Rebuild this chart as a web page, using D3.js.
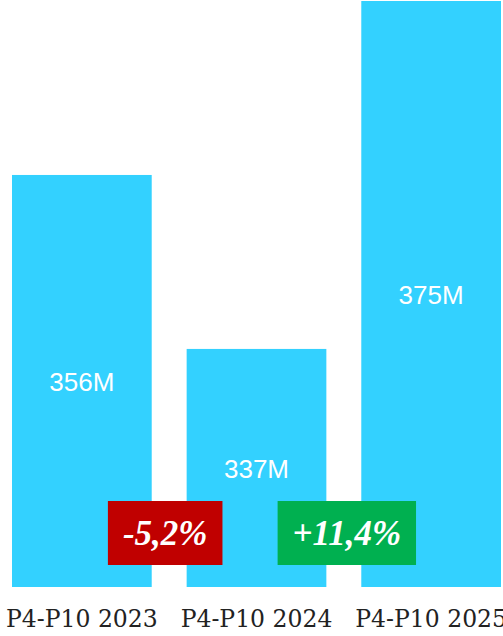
<!DOCTYPE html>
<html>
<head>
<meta charset="utf-8">
<script src="https://cdn.jsdelivr.net/npm/d3@7"></script>
<style>
  html, body { margin: 0; padding: 0; background: #fff; }
  svg { display: block; }
</style>
</head>
<body>
<svg id="chart" width="503" height="636"></svg>
<script>
// Period totals (millions)
const periods = ["P4-P10 2023", "P4-P10 2024", "P4-P10 2025"];
const totals = [356, 337, 375];
const totalLabels = ["356M", "337M", "375M"];

// Year-over-year change badges, placed between consecutive bars
const changeLabels = ["-5,2%", "+11,4%"];
const changeColors = ["#C00000", "#00B050"];

const W = 503, H = 636;
const baseY = 587;
const svg = d3.select("#chart");

const x = d3.scaleBand()
  .domain(periods)
  .range([12, 501])
  .paddingInner(0.2)
  .paddingOuter(0);

const y = d3.scaleLinear()
  .domain([311, 375])
  .range([baseY, 1]);

const data = periods.map((p, i) => ({ period: p, value: totals[i], label: totalLabels[i] }));

// bars
svg.append("g").selectAll("rect")
  .data(data)
  .join("rect")
  .attr("x", d => x(d.period))
  .attr("y", d => y(d.value))
  .attr("width", x.bandwidth())
  .attr("height", d => baseY - y(d.value))
  .attr("fill", "#33D1FF");

// value labels, centred in each bar
const labelSize = 26;
svg.append("g").selectAll("text")
  .data(data)
  .join("text")
  .attr("x", d => x(d.period) + x.bandwidth() / 2)
  .attr("y", d => (y(d.value) + baseY) / 2 + labelSize * 0.37)
  .attr("text-anchor", "middle")
  .attr("font-family", "'Liberation Sans', Arial, sans-serif")
  .attr("font-size", labelSize)
  .attr("fill", "#fff")
  .text(d => d.label);

// x axis (labels only)
const xAxis = d3.axisBottom(x).tickSize(0).tickPadding(0);
const axisG = svg.append("g")
  .attr("transform", `translate(0,${baseY})`)
  .call(xAxis);
axisG.select(".domain").remove();
axisG.selectAll("text")
  .attr("y", 40)
  .attr("dy", null)
  .attr("font-family", "'DejaVu Serif', Georgia, serif")
  .attr("font-size", 23.5)
  .attr("fill", "#222");

// change badges, nudged slightly outward from the gap centre
const badgeH = 64;
const badgeBottom = baseY - 22;
const badgeNudge = [-4, 3];
const badges = svg.append("g").selectAll("g")
  .data(changeLabels.map((t, i) => ({ text: t, color: changeColors[i], i })))
  .join("g")
  .attr("transform", d => {
    const gapCx = (x(periods[d.i]) + x.bandwidth() + x(periods[d.i + 1])) / 2 + badgeNudge[d.i];
    return `translate(${gapCx},${badgeBottom - badgeH})`;
  });

badges.append("rect").attr("fill", d => d.color).attr("y", 0).attr("height", badgeH);
const texts = badges.append("text")
  .attr("x", 0)
  .attr("y", badgeH / 2 + 12)
  .attr("text-anchor", "middle")
  .attr("font-family", "'Liberation Serif', Georgia, serif")
  .attr("font-weight", "bold")
  .attr("font-style", "italic")
  .attr("font-size", 35)
  .attr("fill", "#fff")
  .text(d => d.text);

texts.each(function() {
  const w = this.getComputedTextLength() + 30;
  d3.select(this.parentNode).select("rect")
    .attr("x", -w / 2)
    .attr("width", w);
});
</script>
</body>
</html>
